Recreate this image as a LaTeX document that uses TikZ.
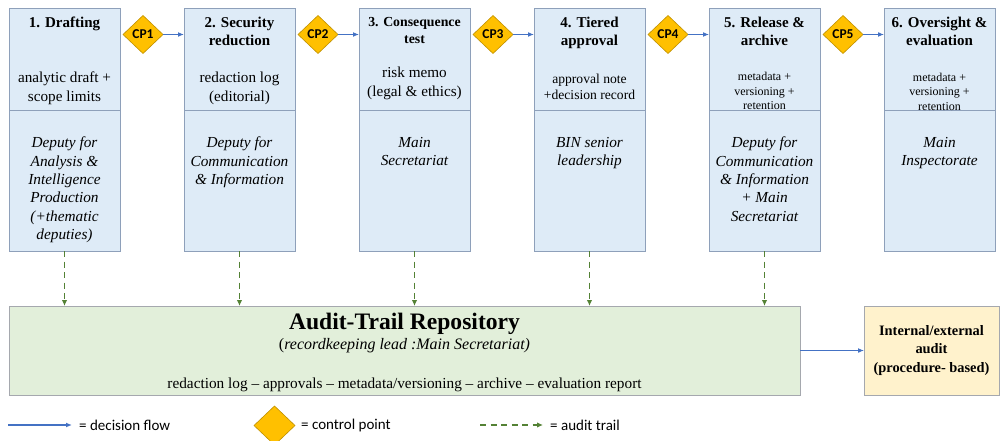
\documentclass[tikz,border=0pt]{standalone}
\usepackage{fontspec}
\setmainfont{Liberation Serif}
\setsansfont{Carlito}
\usepackage{tikz}
\usetikzlibrary{positioning,calc,arrows.meta,shapes.geometric}
\definecolor{StageBg}{HTML}{DEEBF7}
\definecolor{StageLine}{HTML}{8EA0BA}
\definecolor{RepoBg}{HTML}{E2EFDA}
\definecolor{AuditBg}{HTML}{FFF2CC}
\definecolor{BoxLine}{HTML}{A5A8AE}
\definecolor{CpGold}{HTML}{FFC000}
\definecolor{CpLine}{HTML}{BF9000}
\definecolor{FlowBlue}{HTML}{4472C4}
\definecolor{TrailGreen}{HTML}{548235}
\newcommand{\ttlfont}{\bfseries\fontsize{15}{18}\selectfont}
\newcommand{\ttlsmall}{\bfseries\fontsize{13.8}{17}\selectfont}
\newcommand{\artfont}{\fontsize{15.2}{18.5}\selectfont}
\newcommand{\artmid}{\fontsize{13.6}{16}\selectfont}
\newcommand{\artsmall}{\fontsize{12}{14.5}\selectfont}
\newcommand{\rolefont}{\itshape\fontsize{15.3}{18.3}\selectfont}

\begin{document}
\begin{tikzpicture}[x=1pt,y=-1pt,
  stagetop/.style={draw=StageLine,fill=StageBg,line width=0.9pt,minimum width=111pt,minimum height=102pt,inner sep=0pt,outer sep=0pt},
  stagebot/.style={draw=StageLine,fill=StageBg,line width=0.9pt,minimum width=111pt,minimum height=141pt,inner sep=0pt,outer sep=0pt},
  cpnode/.style={diamond,draw=CpLine,fill=CpGold,line width=0.6pt,minimum width=40pt,minimum height=38pt,inner sep=0pt,outer sep=0pt,font=\sffamily\bfseries\fontsize{13.5}{14}\selectfont},
  flowarrow/.style={-{Latex[length=6pt,width=5pt]},FlowBlue,line width=1.6pt},
  trailarrow/.style={-{Latex[length=6pt,width=5.5pt]},TrailGreen,line width=1.9pt,dash pattern=on 6pt off 4.5pt},
  txt/.style={align=center,inner sep=0pt},
  legtxt/.style={inner sep=0pt,font=\sffamily\fontsize{15}{18}\selectfont}]
\useasboundingbox (0,0) rectangle (1001,441);
\foreach \i/\ttl/\tf/\art/\af/\ay/\role [evaluate=\i as \cx using 64.5+175*\i] in {
  0/{1. Drafting}/\ttlfont/{analytic draft +\\scope limits}/\artfont/88.5/{Deputy for\\Analysis \&\\Intelligence\\Production\\(+thematic\\deputies)},
  1/{2. Security\\reduction}/\ttlfont/{redaction log\\(editorial)}/\artfont/88.5/{Deputy for\\Communication\\\& Information},
  2/{3. Consequence\\test}/\ttlsmall/{risk memo\\(legal \& ethics)}/\artfont/83.5/{Main\\Secretariat},
  3/{4. Tiered\\approval}/\ttlfont/{approval note\\+decision record}/\artmid/87/{BIN senior\\leadership},
  4/{5. Release \&\\archive}/\ttlfont/{metadata +\\versioning +\\retention}/\artsmall/91/{Deputy for\\Communication\\\& Information\\+ Main\\Secretariat},
  5/{6. Oversight \&\\evaluation}/\ttlfont/{metadata +\\versioning +\\retention}/\artsmall/91.5/{Main\\Inspectorate}} {
  \node[stagetop] (t\i) at (\cx,59) {};
  \node[stagebot,anchor=north] (b\i) at (t\i.south) {};
  \node[txt,font=\tf,anchor=north] (ttl\i) at ([yshift=-9pt]t\i.north) {\ttl};
  \node[txt,font=\af] (art\i) at (\cx,\ay) {\art};
  \node[txt,font=\rolefont,anchor=north] (role\i) at ([yshift=-27pt]b\i.north) {\role};
}
\foreach \i [evaluate=\i as \cx using 143+175*\i, evaluate=\i as \n using int(\i+1)] in {0,...,4} {
  \node[cpnode] (cp\i) at (\cx,34.5) {CP\n};
  \draw[flowarrow] (cp\i) -- (cp\i -| t\n.west);
}
\node[draw=BoxLine,fill=RepoBg,line width=0.9pt,minimum width=791pt,minimum height=89pt,outer sep=0pt] (repo) at (404.5,350.5) {};
\node[txt,font=\bfseries\fontsize{23.6}{26}\selectfont] (repottl) at (404.5,323.5) {Audit-Trail Repository};
\node[txt,font=\fontsize{16}{18}\selectfont] (reposub) at (404.5,346) {(\textit{recordkeeping lead :Main Secretariat)}};
\node[txt,font=\fontsize{15.3}{18}\selectfont] (repoitems) at (404.5,385) {redaction log -- approvals -- metadata/versioning -- archive -- evaluation report};
\foreach \i in {0,...,4} {
  \draw[trailarrow] (b\i) -- (b\i |- repo.north);
}
\node[draw=BoxLine,fill=AuditBg,line width=0.9pt,minimum width=135pt,minimum height=89pt,outer sep=0pt,align=center,font=\bfseries\fontsize{14.4}{18.5}\selectfont] (audit) at (931.5,350.5) {Internal/external\\audit\\(procedure- based)};
\draw[flowarrow] (repo) -- (audit);
\coordinate (flowA) at (8,425);
\coordinate (flowB) at (72,425);
\draw[flowarrow] (flowA) -- (flowB);
\node[legtxt,anchor=west] (flowlbl) at (79,425) {= decision flow};
\node[cpnode,minimum width=41pt,minimum height=39pt] (cpkey) at (274.5,425.5) {};
\node[legtxt,anchor=west] (cplbl) at (301,425) {= control point};
\coordinate (trailA) at (480,425);
\coordinate (trailB) at (543,425);
\draw[trailarrow] (trailA) -- (trailB);
\node[legtxt,anchor=west] (traillbl) at (550,425) {= audit trail};
\end{tikzpicture}
\end{document}
